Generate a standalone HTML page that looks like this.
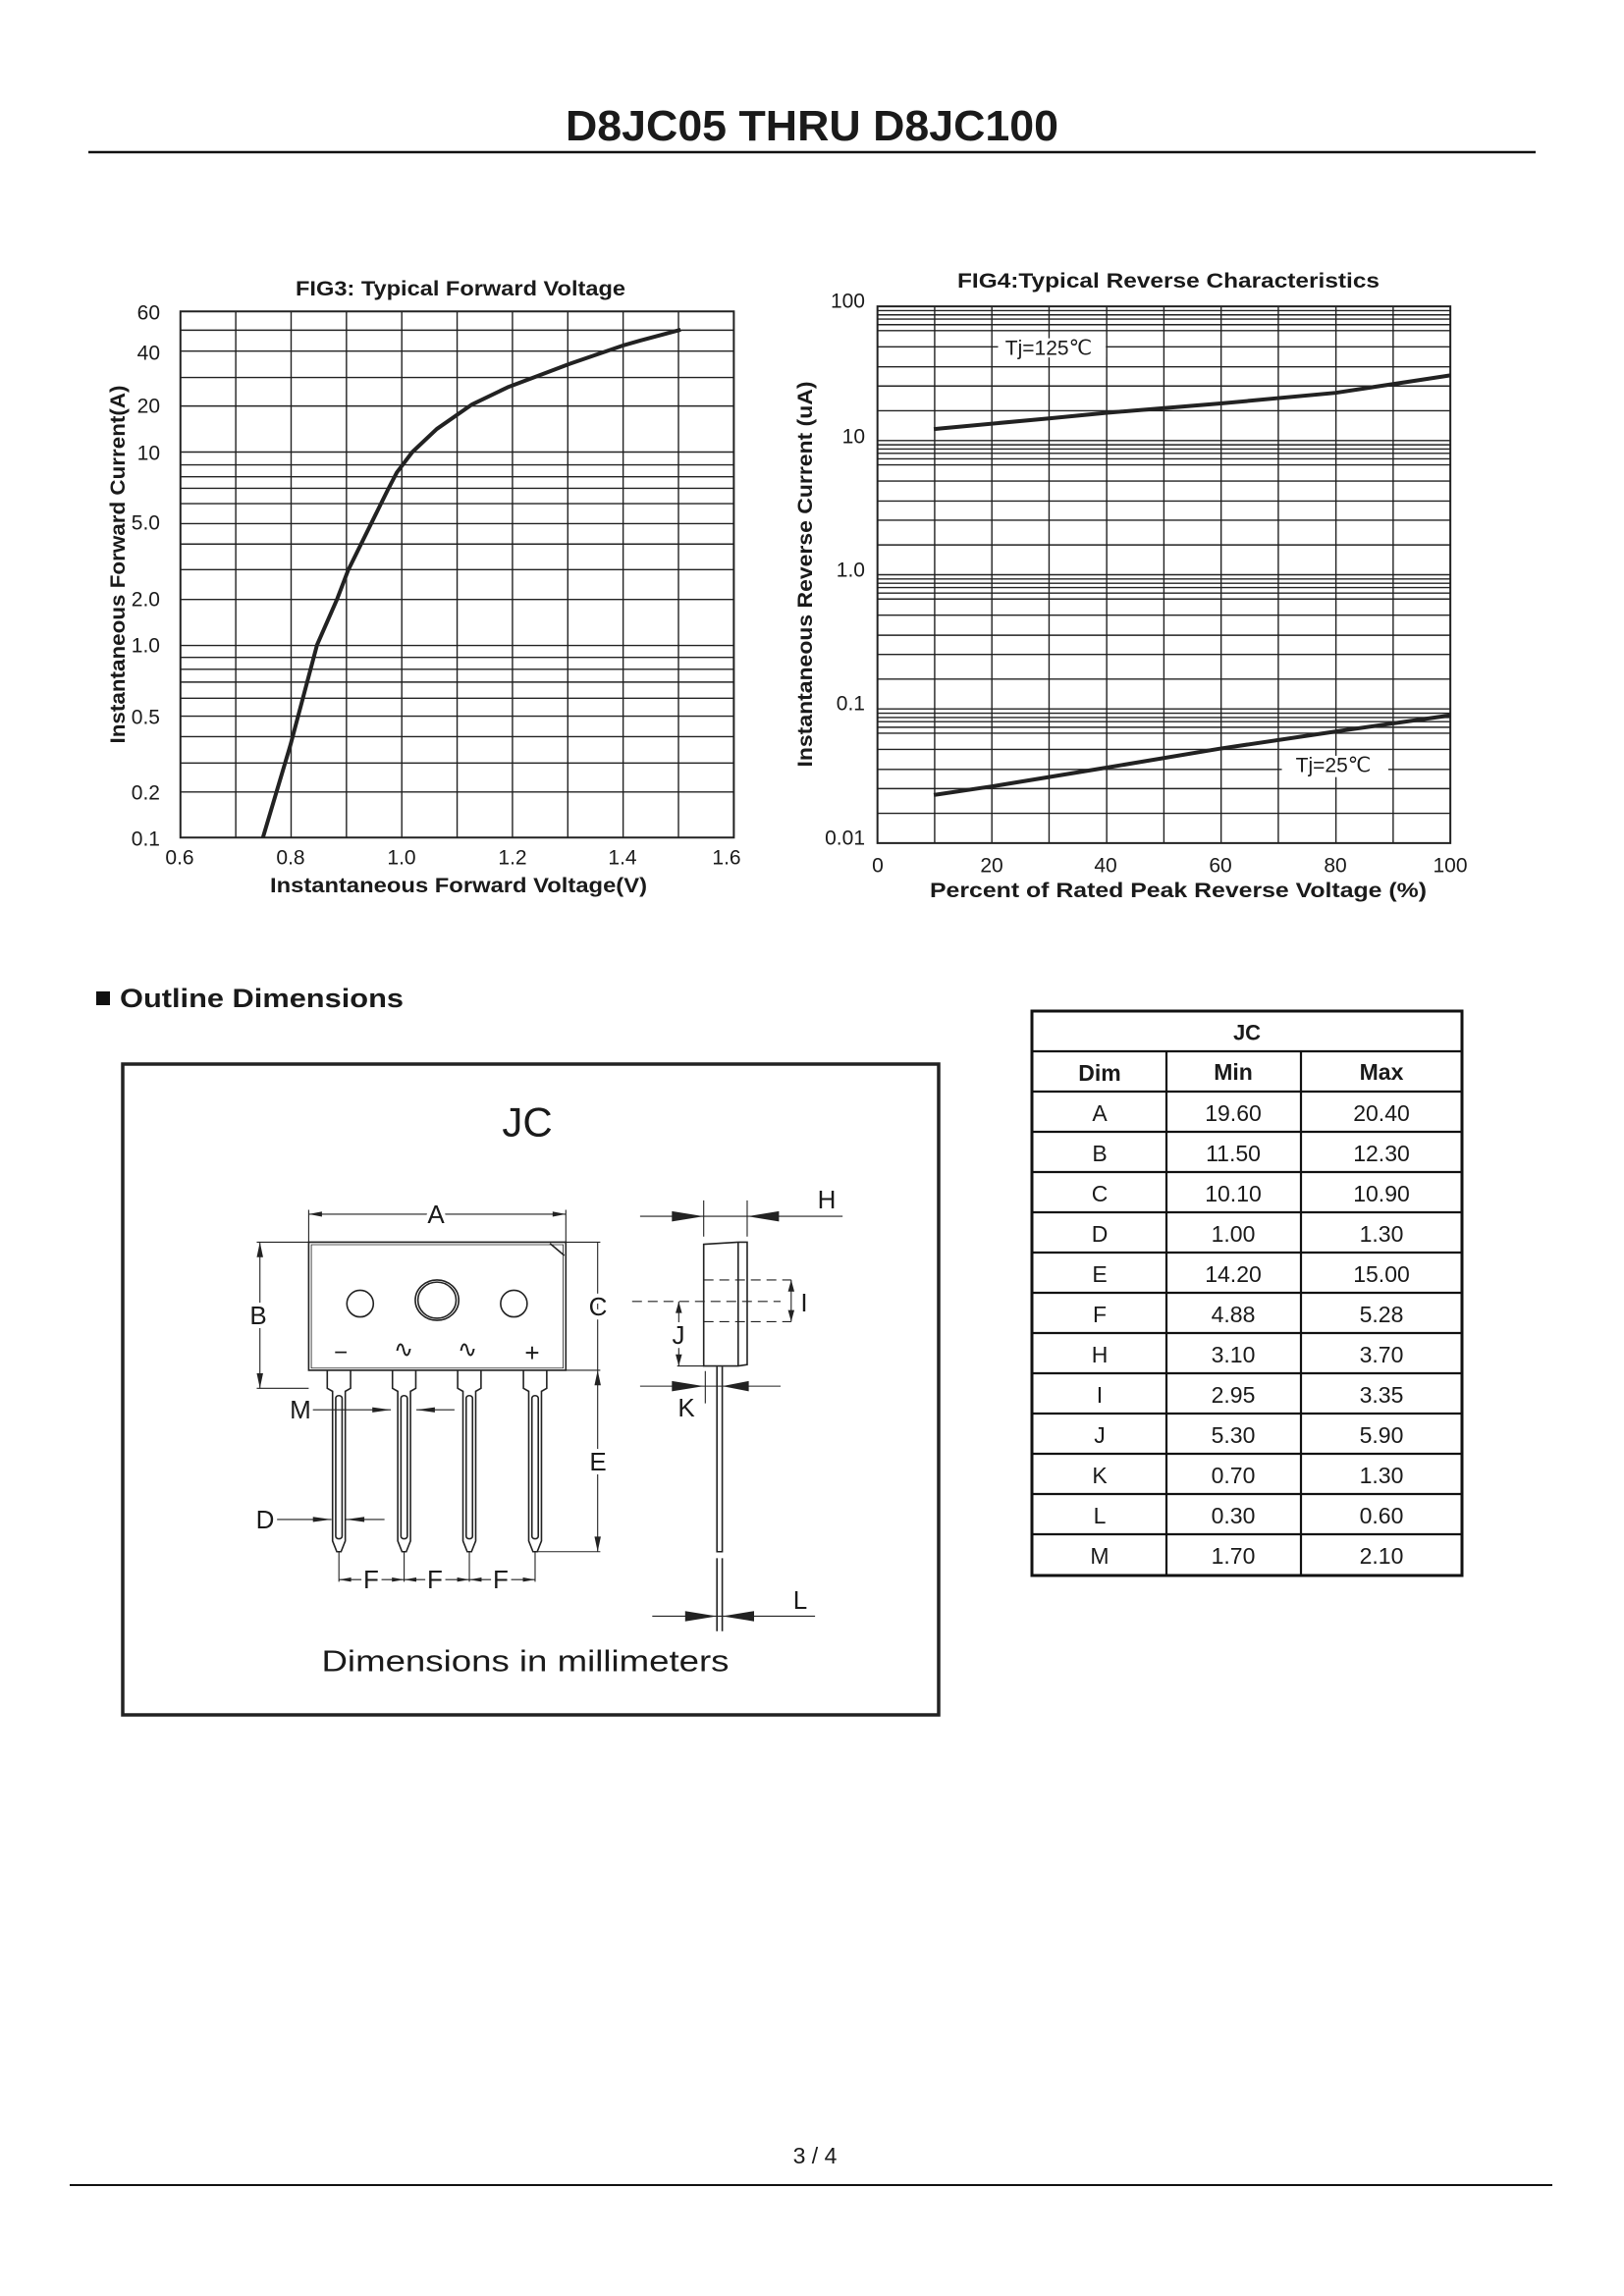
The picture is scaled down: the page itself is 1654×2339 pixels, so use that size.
<!DOCTYPE html>
<html><head><meta charset="utf-8"><style>
html,body{margin:0;padding:0;background:#fff;}
svg{display:block;}
text{font-family:"Liberation Sans",Arial,sans-serif;fill:#1a1a1a;}
.g{stroke:#222;stroke-width:1.4;fill:none;}
.t{font-size:21px;}
.lbl{font-size:26px;stroke:#fff;stroke-width:8px;paint-order:stroke;}
</style></head><body>
<svg width="1654" height="2339" viewBox="0 0 1654 2339" xmlns="http://www.w3.org/2000/svg">
<rect width="1654" height="2339" fill="#fff"/>
<!-- header -->
<text x="827" y="143" text-anchor="middle" font-size="44" font-weight="bold" textLength="502" lengthAdjust="spacingAndGlyphs">D8JC05 THRU D8JC100</text>
<line x1="90" y1="155" x2="1564" y2="155" stroke="#111" stroke-width="2.5"/>

<!-- FIG3 -->
<g transform="translate(79,260) scale(0.4516,0.434)">
<g class="g" vector-effect="non-scaling-stroke">
<path vector-effect="non-scaling-stroke" class="g" d="M232,132H1480M232,176H1480M232,225H1480M232,287H1480M232,354H1480M232,462H1480M232,492H1480M232,520H1480M232,547H1480M232,583H1480M232,630H1480M232,678H1480M232,738H1480M232,808H1480M232,916H1480M232,944H1480M232,972H1480M232,1002H1480M232,1040H1480M232,1082H1480M232,1130H1480M232,1192H1480M232,1260H1480M232,1367H1480"/>
<path vector-effect="non-scaling-stroke" class="g" d="M232,132V1367M356.8,132V1367M481.6,132V1367M606.4,132V1367M731.2,132V1367M856,132V1367M980.8,132V1367M1105.6,132V1367M1230.4,132V1367M1355.2,132V1367M1480,132V1367"/>
</g>
<rect x="232" y="132" width="1248" height="1235" fill="none" stroke="#222" stroke-width="2" vector-effect="non-scaling-stroke"/>
<polyline vector-effect="non-scaling-stroke" fill="none" stroke="#222" stroke-width="4" stroke-linejoin="round" points="418,1367 480,1150 540,915 585,808 610,740 700,550 720,510 755,462 810,408 890,350 970,310 1110,255 1230,212 1270,200 1360,175"/>
</g>
<text x="469" y="301" text-anchor="middle" font-size="21" font-weight="bold" textLength="336" lengthAdjust="spacingAndGlyphs">FIG3: Typical Forward Voltage</text>
<g class="t" text-anchor="end" dominant-baseline="central">
<text x="163" y="319">60</text><text x="163" y="360">40</text><text x="163" y="414">20</text><text x="163" y="462">10</text><text x="163" y="533">5.0</text><text x="163" y="611">2.0</text><text x="163" y="658">1.0</text><text x="163" y="731">0.5</text><text x="163" y="808">0.2</text><text x="163" y="855">0.1</text>
</g>
<g class="t" text-anchor="middle" dominant-baseline="central">
<text x="183" y="874">0.6</text><text x="296" y="874">0.8</text><text x="409" y="874">1.0</text><text x="522" y="874">1.2</text><text x="634" y="874">1.4</text><text x="740" y="874">1.6</text>
</g>
<text x="467" y="909" text-anchor="middle" font-size="21" font-weight="bold" textLength="384" lengthAdjust="spacingAndGlyphs">Instantaneous Forward Voltage(V)</text>
<text transform="translate(127,575) rotate(-90)" text-anchor="middle" font-size="21" font-weight="bold" textLength="365" lengthAdjust="spacingAndGlyphs">Instantaneous Forward Current(A)</text>

<!-- FIG4 -->
<g transform="translate(802,260) scale(0.4516,0.434)">
<path vector-effect="non-scaling-stroke" class="g" d="M203,130H1495M203,140H1495M203,150H1495M203,163H1495M203,177H1495M203,215H1495M203,262H1495M203,307H1495M203,365H1495M203,435H1495M203,445H1495M203,455H1495M203,465H1495M203,478H1495M203,492H1495M203,530H1495M203,577H1495M203,622H1495M203,680H1495M203,750H1495M203,760H1495M203,770H1495M203,780H1495M203,793H1495M203,807H1495M203,845H1495M203,892H1495M203,937H1495M203,995H1495M203,1065H1495M203,1075H1495M203,1085H1495M203,1095H1495M203,1108H1495M203,1122H1495M203,1160H1495M203,1207H1495M203,1252H1495M203,1310H1495"/>
<path vector-effect="non-scaling-stroke" class="g" d="M332,120V1380M461,120V1380M590,120V1380M720,120V1380M849,120V1380M978,120V1380M1107,120V1380M1237,120V1380M1366,120V1380"/>
<rect x="203" y="120" width="1292" height="1260" fill="none" stroke="#222" stroke-width="2" vector-effect="non-scaling-stroke"/>
<rect x="475" y="195" width="243" height="45" fill="#fff"/>
<rect x="1115" y="1175" width="240" height="50" fill="#fff"/>
<polyline vector-effect="non-scaling-stroke" fill="none" stroke="#222" stroke-width="4" points="330,408 590,383 718,370 977,348 1236,323 1495,282"/>
<polyline vector-effect="non-scaling-stroke" fill="none" stroke="#222" stroke-width="4" points="330,1267 460,1247 718,1203 977,1158 1236,1118 1495,1080"/>
</g>
<text x="1068" y="355" class="t" text-anchor="middle" dominant-baseline="central">Tj=125℃</text>
<text x="1358" y="780" class="t" text-anchor="middle" dominant-baseline="central">Tj=25℃</text>
<text x="1190" y="293" text-anchor="middle" font-size="21" font-weight="bold" textLength="430" lengthAdjust="spacingAndGlyphs">FIG4:Typical Reverse Characteristics</text>
<g class="t" text-anchor="end" dominant-baseline="central">
<text x="881" y="307">100</text><text x="881" y="445">10</text><text x="881" y="581">1.0</text><text x="881" y="717">0.1</text><text x="881" y="854">0.01</text>
</g>
<g class="t" text-anchor="middle" dominant-baseline="central">
<text x="894" y="882">0</text><text x="1010" y="882">20</text><text x="1126" y="882">40</text><text x="1243" y="882">60</text><text x="1360" y="882">80</text><text x="1477" y="882">100</text>
</g>
<text x="1200" y="914" text-anchor="middle" font-size="21" font-weight="bold" textLength="506" lengthAdjust="spacingAndGlyphs">Percent of Rated Peak Reverse Voltage  (%)</text>
<text transform="translate(827,585) rotate(-90)" text-anchor="middle" font-size="21" font-weight="bold" textLength="393" lengthAdjust="spacingAndGlyphs">Instantaneous Reverse Current (uA)</text>

<!-- Outline heading -->
<rect x="98" y="1010" width="14" height="14" fill="#111"/>
<text x="122" y="1026" font-size="27" font-weight="bold" textLength="289" lengthAdjust="spacingAndGlyphs">Outline Dimensions</text>

<!-- Drawing box -->
<rect x="125" y="1084" width="831" height="663" fill="none" stroke="#222" stroke-width="3.5"/>
<g transform="translate(120,1088) scale(0.54,0.438)" fill="none" stroke="#222">
<g stroke-width="1.6">
<rect vector-effect="non-scaling-stroke" x="360" y="405" width="485" height="298"/>
<rect vector-effect="non-scaling-stroke" x="365" y="411" width="475" height="287" stroke-width="0.8"/>
<line vector-effect="non-scaling-stroke" x1="815" y1="408" x2="842" y2="436"/>
<ellipse vector-effect="non-scaling-stroke" cx="457" cy="548" rx="25" ry="31"/>
<ellipse vector-effect="non-scaling-stroke" cx="602" cy="540" rx="41" ry="47"/>
<ellipse vector-effect="non-scaling-stroke" cx="602" cy="540" rx="36" ry="42"/>
<ellipse vector-effect="non-scaling-stroke" cx="747" cy="548" rx="25" ry="31"/>
<!-- leads -->
<path vector-effect="non-scaling-stroke" d="M395,703V745L405,752V1100L413,1125H421L429,1100V752L439,745V703"/>
<rect vector-effect="non-scaling-stroke" x="411" y="762" width="12" height="333" rx="6"/>
<path vector-effect="non-scaling-stroke" d="M518,703V745L528,752V1100L536,1125H544L552,1100V752L562,745V703"/>
<rect vector-effect="non-scaling-stroke" x="534" y="762" width="12" height="333" rx="6"/>
<path vector-effect="non-scaling-stroke" d="M641,703V745L651,752V1100L659,1125H667L675,1100V752L685,745V703"/>
<rect vector-effect="non-scaling-stroke" x="657" y="762" width="12" height="333" rx="6"/>
<path vector-effect="non-scaling-stroke" d="M765,703V745L775,752V1100L783,1125H791L799,1100V752L809,745V703"/>
<rect vector-effect="non-scaling-stroke" x="781" y="762" width="12" height="333" rx="6"/>
<!-- side view -->
<path vector-effect="non-scaling-stroke" d="M1105,410L1170,405H1187V690L1170,693H1105Z"/>
<line vector-effect="non-scaling-stroke" x1="1170" y1="405" x2="1170" y2="693"/>
<path vector-effect="non-scaling-stroke" d="M1130,695V1125H1140V695M1130,1140V1310M1140,1140V1310"/>
</g>
<g stroke-width="1.1">
<path vector-effect="non-scaling-stroke" d="M360,330V405M845,330V405M360,340H585M615,340H845M262,405H910M262,745H360M268,405V745M905,405V1125M845,703H910M787,1125H910M365,795H515M563,795H635M298,1050H403M430,1050H503M417,1125V1195M540,1125V1195M663,1125V1195M787,1125V1195M417,1190H787"/>
<path vector-effect="non-scaling-stroke" d="M985,345H1367M1105,308V392M1187,308V392M985,740H1250M1108,705V780M1008,1275H1315M1270,493V590M1058,543V693M1055,693H1105"/>
<path vector-effect="non-scaling-stroke" stroke-dasharray="10,6" d="M1105,493H1270M1105,590H1270M970,543H1250"/>
</g>
<g fill="#222" stroke="none">
<polygon points="360,340 385,334 385,346"/><polygon points="845,340 820,334 820,346"/>
<polygon points="268,405 262,440 274,440"/><polygon points="268,745 262,710 274,710"/>
<polygon points="905,703 899,738 911,738"/><polygon points="905,1125 899,1090 911,1090"/>
<polygon points="515,795 480,789 480,801"/><polygon points="563,795 598,789 598,801"/>
<polygon points="403,1050 368,1044 368,1056"/><polygon points="430,1050 465,1044 465,1056"/>
<polygon points="417,1190 440,1185 440,1195"/><polygon points="540,1190 517,1185 517,1195"/>
<polygon points="540,1190 563,1185 563,1195"/><polygon points="663,1190 640,1185 640,1195"/>
<polygon points="663,1190 686,1185 686,1195"/><polygon points="787,1190 764,1185 764,1195"/>
<polygon points="1045,333 1105,345 1045,357"/><polygon points="1247,333 1187,345 1247,357"/>
<polygon points="1045,728 1105,740 1045,752"/><polygon points="1190,728 1140,740 1190,752"/>
<polygon points="1070,1263 1130,1275 1070,1287"/><polygon points="1200,1263 1140,1275 1200,1287"/>
<polygon points="1270,493 1264,520 1276,520"/><polygon points="1270,590 1264,563 1276,563"/>
<polygon points="1058,543 1052,570 1064,570"/><polygon points="1058,693 1052,666 1064,666"/>
</g>
</g>
<g font-size="26" text-anchor="middle" dominant-baseline="central">
<text x="537" y="1143" font-size="42">JC</text>
<text x="347" y="1378" font-size="24">−</text><text x="411" y="1375" font-size="24">∿</text><text x="476" y="1375" font-size="24">∿</text><text x="542" y="1378" font-size="26">+</text>
<text class="lbl" x="444" y="1237">A</text>
<text class="lbl" x="263" y="1340">B</text>
<text class="lbl" x="609" y="1331">C</text>
<text class="lbl" x="609" y="1489">E</text>
<text class="lbl" x="306" y="1436">M</text>
<text class="lbl" x="270" y="1548">D</text>
<text class="lbl" x="378" y="1609">F</text><text class="lbl" x="443" y="1609">F</text><text class="lbl" x="510" y="1609">F</text>
<text class="lbl" x="842" y="1222">H</text>
<text class="lbl" x="819" y="1327">I</text>
<text class="lbl" x="691" y="1360">J</text>
<text class="lbl" x="699" y="1434">K</text>
<text class="lbl" x="815" y="1630">L</text>
<text x="535" y="1692" font-size="31" textLength="415" lengthAdjust="spacingAndGlyphs">Dimensions in millimeters</text>
</g>

<!-- Table -->
<g stroke="#111" fill="none">
<rect x="1051" y="1030" width="438" height="575" stroke-width="3"/>
<path stroke-width="2.2" d="M1051,1071H1489M1051,1112H1489M1051,1153H1489M1051,1194H1489M1051,1235H1489M1051,1276H1489M1051,1317H1489M1051,1358H1489M1051,1399H1489M1051,1440H1489M1051,1481H1489M1051,1522H1489M1051,1563H1489M1188,1071V1605M1325,1071V1605"/>
</g>
<g font-size="23" text-anchor="middle" dominant-baseline="central">
<text x="1270" y="1052" font-weight="bold" font-size="22">JC</text>
<text x="1120" y="1093" font-weight="bold">Dim</text><text x="1256" y="1092" font-weight="bold">Min</text><text x="1407" y="1092" font-weight="bold">Max</text>
<text x="1120" y="1134">A</text><text x="1256" y="1134">19.60</text><text x="1407" y="1134">20.40</text>
<text x="1120" y="1175">B</text><text x="1256" y="1175">11.50</text><text x="1407" y="1175">12.30</text>
<text x="1120" y="1216">C</text><text x="1256" y="1216">10.10</text><text x="1407" y="1216">10.90</text>
<text x="1120" y="1257">D</text><text x="1256" y="1257">1.00</text><text x="1407" y="1257">1.30</text>
<text x="1120" y="1298">E</text><text x="1256" y="1298">14.20</text><text x="1407" y="1298">15.00</text>
<text x="1120" y="1339">F</text><text x="1256" y="1339">4.88</text><text x="1407" y="1339">5.28</text>
<text x="1120" y="1380">H</text><text x="1256" y="1380">3.10</text><text x="1407" y="1380">3.70</text>
<text x="1120" y="1421">I</text><text x="1256" y="1421">2.95</text><text x="1407" y="1421">3.35</text>
<text x="1120" y="1462">J</text><text x="1256" y="1462">5.30</text><text x="1407" y="1462">5.90</text>
<text x="1120" y="1503">K</text><text x="1256" y="1503">0.70</text><text x="1407" y="1503">1.30</text>
<text x="1120" y="1544">L</text><text x="1256" y="1544">0.30</text><text x="1407" y="1544">0.60</text>
<text x="1120" y="1585">M</text><text x="1256" y="1585">1.70</text><text x="1407" y="1585">2.10</text>
</g>

<!-- footer -->
<text x="830" y="2196" text-anchor="middle" dominant-baseline="central" font-size="23">3 / 4</text>
<line x1="71" y1="2226" x2="1581" y2="2226" stroke="#111" stroke-width="2"/>
</svg>
</body></html>
